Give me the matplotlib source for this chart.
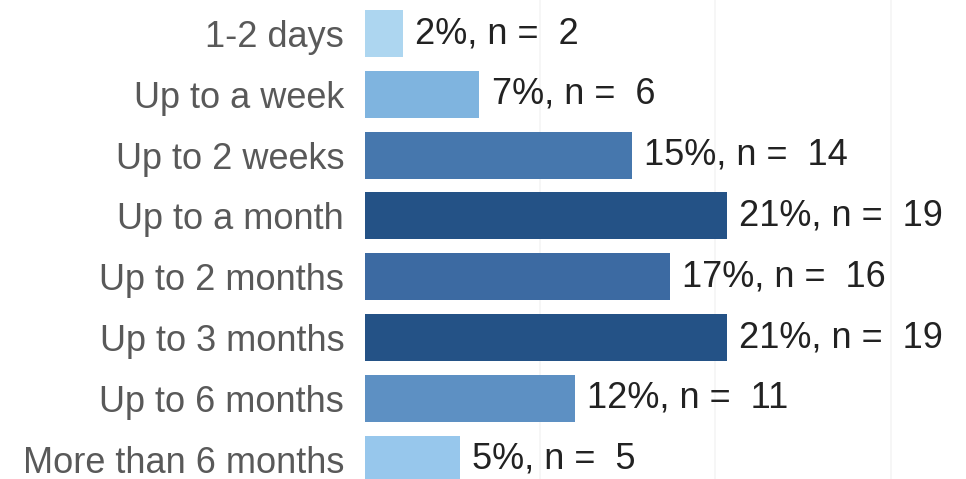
import matplotlib.pyplot as plt

# response time categories and counts
categories = ["1-2 days", "Up to a week", "Up to 2 weeks", "Up to a month",
              "Up to 2 months", "Up to 3 months", "Up to 6 months",
              "More than 6 months"]
counts = [2, 6, 14, 19, 16, 19, 11, 5]
pct_labels = [2, 7, 15, 21, 17, 21, 12, 5]

total = sum(counts)
shares = [c / total * 100 for c in counts]

colors = ["#add6f0", "#7fb4df", "#4677ad", "#245286",
          "#3c6aa2", "#245286", "#5d90c3", "#97c7ec"]

plt.rcParams['font.family'] = ['Liberation Sans', 'DejaVu Sans']

fig = plt.figure(figsize=(9.66, 4.79), dpi=100)
ax = fig.add_axes([365 / 966, 0, 1 - 365 / 966, 1])

y = list(range(len(categories)))
ax.barh(y, shares, height=0.77, color=colors, zorder=2)

for i in range(len(categories)):
    ax.text(shares[i] + 0.7, y[i], "{}%, n =  {}".format(pct_labels[i], counts[i]),
            va='center', ha='left', fontsize=26, color='#222222')

ax.set_yticks(y)
ax.set_yticklabels(categories, fontsize=26, color='#595959')
ax.tick_params(axis='y', length=0, pad=15)
ax.set_xticks([10, 20, 30])
ax.tick_params(axis='x', length=0, labelbottom=False)
ax.grid(axis='x', color='#f5f5f5', linewidth=1.2, zorder=0)
ax.set_xlim(0, 34.3)
ax.set_ylim(7.327, -0.551)
for s in ax.spines.values():
    s.set_visible(False)

plt.savefig("out.png", dpi=100)
